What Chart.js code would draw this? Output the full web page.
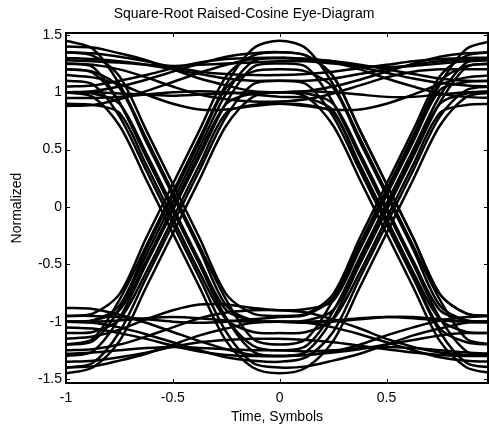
<!DOCTYPE html>
<html>
<head>
<meta charset="utf-8">
<title>Square-Root Raised-Cosine Eye-Diagram</title>
<script src="https://cdn.jsdelivr.net/npm/chart.js@4.4.1/dist/chart.umd.min.js"></script>
<style>
    html, body { margin: 0; padding: 0; background: #fff; }
    canvas { display: block; }
</style>
</head>
<body>
<canvas id="eyeChart" width="489" height="427"></canvas>
<script>
// time axis (symbols), one sample every 1/8 symbol
var timeSymbols = [-1, -0.875, -0.75, -0.625, -0.5, -0.375, -0.25, -0.125, 0,
                   0.125, 0.25, 0.375, 0.5, 0.625, 0.75, 0.875, 1];

// eye traces (normalized amplitude at each time sample)
var traces = [
    [1.00, 0.99, 0.90, 0.47, 0.00, -0.47, -0.90, -0.99, -1.00, -0.99, -0.90, -0.47, 0.00, 0.47, 0.90, 0.99, 1.00],
    [1.25, 1.22, 0.91, 0.44, -0.03, -0.50, -0.97, -1.26, -1.30, -1.26, -0.97, -0.50, -0.03, 0.44, 0.91, 1.22, 1.25],
    [-1.00, -0.99, -0.90, -0.47, 0.00, 0.47, 0.90, 0.99, 1.00, 0.99, 0.90, 0.47, 0.00, -0.47, -0.90, -0.99, -1.00],
    [-1.20, -1.15, -0.81, -0.34, 0.13, 0.60, 1.07, 1.38, 1.45, 1.38, 1.07, 0.60, 0.13, -0.34, -0.81, -1.15, -1.20],
    [-0.95, -0.93, -0.76, -0.27, 0.20, 0.67, 1.14, 1.32, 1.35, 1.32, 1.14, 0.67, 0.20, -0.27, -0.76, -0.93, -0.95],
    [1.45, 1.38, 1.07, 0.60, 0.13, -0.34, -0.81, -1.15, -1.20, -1.15, -0.81, -0.34, 0.13, 0.60, 1.07, 1.38, 1.45],
    [1.00, 0.96, 0.71, 0.24, -0.23, -0.70, -1.17, -1.40, -1.45, -1.40, -1.17, -0.70, -0.23, 0.24, 0.71, 0.96, 1.00],
    [-1.45, -1.40, -1.17, -0.70, -0.23, 0.24, 0.71, 0.96, 1.00, 0.96, 0.71, 0.24, -0.23, -0.70, -1.17, -1.40, -1.45],
    [1.00, 1.00, 0.99, 0.98, 0.97, 0.98, 0.99, 1.00, 1.00, 1.01, 1.00, 0.98, 0.96, 0.96, 0.98, 1.00, 1.01],
    [1.28, 1.27, 1.26, 1.24, 1.23, 1.24, 1.25, 1.26, 1.27, 1.27, 1.25, 1.23, 1.22, 1.23, 1.25, 1.27, 1.28],
    [1.40, 1.39, 1.34, 1.28, 1.20, 1.12, 1.06, 1.01, 1.00, 1.01, 1.05, 1.11, 1.18, 1.25, 1.31, 1.34, 1.35],
    [0.88, 0.89, 0.94, 1.01, 1.09, 1.17, 1.24, 1.29, 1.30, 1.29, 1.27, 1.24, 1.20, 1.16, 1.12, 1.10, 1.10],
    [1.15, 1.13, 1.07, 0.98, 0.90, 0.85, 0.85, 0.88, 0.90, 0.89, 0.82, 0.37, -0.10, -0.57, -0.98, -1.09, -1.10],
    [1.30, 1.29, 1.27, 1.24, 1.20, 1.16, 1.12, 1.10, 1.10, 1.07, 0.79, 0.32, -0.15, -0.62, -1.09, -1.36, -1.40],
    [-1.10, -1.09, -0.98, -0.57, -0.10, 0.37, 0.82, 0.89, 0.90, 0.88, 0.85, 0.85, 0.90, 0.98, 1.07, 1.13, 1.15],
    [-1.00, -0.99, -0.86, -0.37, 0.10, 0.57, 1.04, 1.18, 1.20, 1.18, 1.04, 0.57, 0.10, -0.37, -0.86, -0.99, -1.00],
    [-1.40, -1.36, -1.09, -0.62, -0.15, 0.32, 0.79, 1.07, 1.10, 1.10, 1.12, 1.16, 1.20, 1.24, 1.27, 1.29, 1.30],
    [1.20, 1.18, 1.04, 0.57, 0.10, -0.37, -0.86, -0.99, -1.00, -1.00, -0.99, -0.97, -0.96, -0.97, -0.99, -1.00, -1.00],
    [1.10, 1.07, 0.79, 0.32, -0.15, -0.62, -1.09, -1.36, -1.40, -1.39, -1.34, -1.28, -1.20, -1.12, -1.06, -1.01, -1.00],
    [-1.00, -1.00, -0.99, -0.97, -0.96, -0.97, -0.99, -1.00, -1.00, -1.01, -1.00, -0.98, -0.96, -0.96, -0.98, -1.00, -1.01],
    [-1.28, -1.27, -1.25, -1.23, -1.22, -1.23, -1.24, -1.25, -1.25, -1.26, -1.25, -1.23, -1.22, -1.23, -1.25, -1.27, -1.28],
    [-1.40, -1.39, -1.34, -1.28, -1.20, -1.12, -1.06, -1.01, -1.00, -1.01, -1.05, -1.11, -1.18, -1.25, -1.31, -1.34, -1.35],
    [-0.88, -0.89, -0.94, -1.01, -1.09, -1.17, -1.24, -1.29, -1.30, -1.29, -1.27, -1.24, -1.20, -1.16, -1.12, -1.10, -1.10],
    [-1.15, -1.13, -1.07, -0.98, -0.90, -0.85, -0.85, -0.88, -0.90, -0.89, -0.82, -0.37, 0.10, 0.57, 1.02, 1.09, 1.10],
    [-1.00, -1.01, -1.05, -1.11, -1.18, -1.25, -1.31, -1.34, -1.35, -1.31, -1.09, -0.62, -0.15, 0.32, 0.79, 1.02, 1.05],
    [1.00, 1.01, 1.05, 1.11, 1.18, 1.25, 1.31, 1.34, 1.35, 1.32, 1.14, 0.67, 0.20, -0.27, -0.76, -0.93, -0.95],
    [0.90, 0.89, 0.82, 0.37, -0.10, -0.57, -0.98, -1.09, -1.10, -1.09, -0.98, -0.57, -0.10, 0.37, 0.82, 0.89, 0.90],
    [-1.30, -1.26, -0.97, -0.50, -0.03, 0.44, 0.91, 1.22, 1.25, 1.22, 0.91, 0.44, -0.03, -0.50, -0.97, -1.26, -1.30],
    [1.35, 1.32, 1.14, 0.67, 0.20, -0.27, -0.76, -0.93, -0.95, -0.93, -0.76, -0.27, 0.20, 0.67, 1.14, 1.32, 1.35],
    [1.35, 1.34, 1.31, 1.27, 1.22, 1.18, 1.16, 1.15, 1.15, 1.16, 1.18, 1.21, 1.24, 1.27, 1.29, 1.30, 1.30],
    [1.05, 1.06, 1.10, 1.15, 1.21, 1.26, 1.29, 1.30, 1.30, 1.29, 1.26, 1.20, 1.12, 1.05, 0.99, 0.96, 0.95],
    [-1.05, -1.06, -1.10, -1.15, -1.21, -1.26, -1.29, -1.30, -1.30, -1.29, -1.26, -1.20, -1.12, -1.05, -0.99, -0.96, -0.95],
    [-1.35, -1.34, -1.31, -1.27, -1.22, -1.18, -1.16, -1.15, -1.15, -1.16, -1.18, -1.21, -1.24, -1.27, -1.29, -1.30, -1.30],
    [1.20, 1.17, 0.91, 0.44, -0.03, -0.50, -0.97, -1.21, -1.25, -1.21, -0.91, -0.44, 0.03, 0.50, 0.97, 1.26, 1.30],
    [-1.20, -1.17, -0.89, -0.42, 0.05, 0.52, 0.99, 1.27, 1.30, 1.29, 1.27, 1.22, 1.17, 1.12, 1.08, 1.06, 1.05],
    [0.95, 0.95, 0.96, 0.98, 1.00, 1.01, 1.00, 0.98, 0.96, 0.95, 0.84, 0.35, -0.12, -0.59, -1.06, -1.18, -1.20],
    [-0.95, -0.95, -0.96, -0.98, -1.00, -1.01, -1.00, -0.98, -0.96, -0.94, -0.79, -0.32, 0.15, 0.62, 1.09, 1.23, 1.25],
    [-1.25, -1.24, -1.20, -1.13, -1.05, -0.97, -0.92, -0.90, -0.90, -0.92, -0.98, -1.06, -1.15, -1.22, -1.27, -1.29, -1.30],
    [1.25, 1.24, 1.20, 1.13, 1.05, 0.98, 0.94, 0.92, 0.92, 0.94, 0.99, 1.06, 1.13, 1.18, 1.20, 1.20, 1.20]
];

var xTicks = [-1, -0.5, 0, 0.5];
var yTicks = [-1.5, -1, -0.5, 0, 0.5, 1, 1.5];

var FONT = 'Liberation Sans, Arial, Helvetica, sans-serif';

// matlab style box with inward tick marks on all four sides
var boxPlugin = {
    id: 'matlabBox',
    afterDatasetsDraw: function (chart) {
        var ctx = chart.ctx;
        var a = chart.chartArea;
        var xs = chart.scales.x, ys = chart.scales.y;
        var len = 4;
        ctx.save();
        ctx.strokeStyle = '#000';
        ctx.lineWidth = 1;
        ctx.beginPath();
        xTicks.forEach(function (v) {
            var px = Math.round(xs.getPixelForValue(v)) + 0.5;
            ctx.moveTo(px, a.bottom); ctx.lineTo(px, a.bottom - len);
            ctx.moveTo(px, a.top); ctx.lineTo(px, a.top + len);
        });
        yTicks.forEach(function (v) {
            var py = Math.round(ys.getPixelForValue(v)) + 0.5;
            ctx.moveTo(a.left, py); ctx.lineTo(a.left + len, py);
            ctx.moveTo(a.right, py); ctx.lineTo(a.right - len, py);
        });
        ctx.stroke();
        ctx.lineWidth = 2;
        ctx.strokeRect(a.left, a.top, a.right - a.left, a.bottom - a.top);
        ctx.restore();
    }
};

var datasets = traces.map(function (tr) {
    return {
        data: tr.map(function (v, i) { return {x: timeSymbols[i], y: v}; }),
        borderColor: '#000',
        borderWidth: 2.5,
        pointRadius: 0,
        fill: false,
        tension: 0.3
    };
});

new Chart(document.getElementById('eyeChart'), {
    type: 'line',
    data: {datasets: datasets},
    options: {
        responsive: false,
        animation: false,
        layout: {padding: {left: 0, right: 1, top: 0, bottom: 0}},
        plugins: {
            legend: {display: false},
            tooltip: {enabled: false},
            title: {
                display: true,
                text: 'Square-Root Raised-Cosine Eye-Diagram',
                color: '#000',
                font: {family: FONT, size: 14, weight: 'normal'},
                padding: {top: 5.6, bottom: 10.6}
            }
        },
        scales: {
            x: {
                type: 'linear',
                min: -1,
                max: 0.975,
                grid: {display: false, drawTicks: false},
                border: {display: false},
                afterBuildTicks: function (scale) {
                    scale.ticks = xTicks.map(function (v) { return {value: v}; });
                },
                afterFit: function (scale) { scale.height = 44; },
                ticks: {
                    color: '#000',
                    padding: 7,
                    maxRotation: 0,
                    font: {family: FONT, size: 14},
                    callback: function (v) { return String(v); }
                },
                title: {
                    display: true,
                    text: 'Time, Symbols',
                    color: '#000',
                    font: {family: FONT, size: 14},
                    padding: {top: 0, bottom: 1}
                }
            },
            y: {
                type: 'linear',
                min: -1.535,
                max: 1.517,
                grid: {display: false, drawTicks: false},
                border: {display: false},
                afterBuildTicks: function (scale) {
                    scale.ticks = yTicks.map(function (v) { return {value: v}; });
                },
                afterFit: function (scale) { scale.width = 66; },
                ticks: {
                    color: '#000',
                    padding: 4,
                    font: {family: FONT, size: 14},
                    callback: function (v) { return String(v); }
                },
                title: {
                    display: true,
                    text: 'Normalized',
                    color: '#000',
                    font: {family: FONT, size: 14},
                    padding: {top: 9, bottom: 0}
                }
            }
        }
    },
    plugins: [boxPlugin]
});
</script>
</body>
</html>
